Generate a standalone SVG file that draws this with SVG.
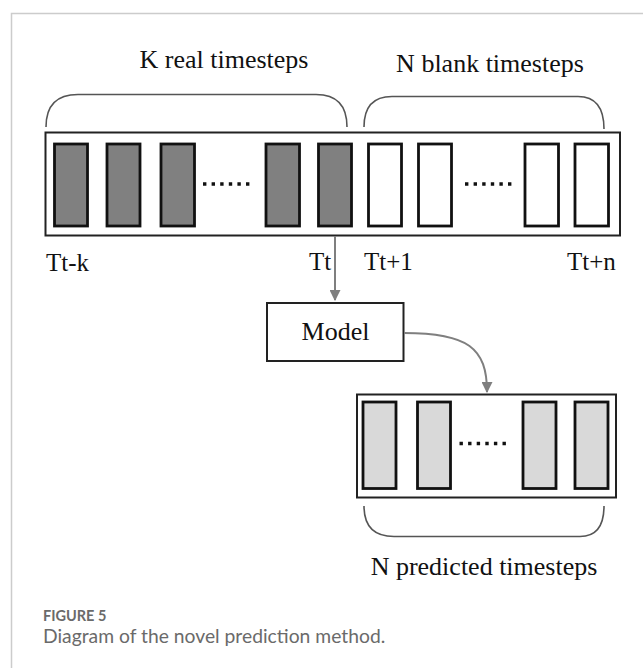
<svg xmlns="http://www.w3.org/2000/svg" width="643" height="668" viewBox="0 0 643 668">
  <style>
    .serif { font-family: "Liberation Serif", "Times New Roman", serif; fill: #111; }
    .head { font-size: 26px; text-anchor: middle; }
    .tick { font-size: 25px; }
    .box { fill: #fff; stroke: #222; stroke-width: 2; }
    .real { fill: #808080; stroke: #111; stroke-width: 2.8; }
    .blank { fill: #fff; stroke: #111; stroke-width: 2.8; }
    .pred { fill: #d9d9d9; stroke: #111; stroke-width: 2.8; }
    .brace { fill: none; stroke: #555; stroke-width: 1.6; }
    .dots { stroke: #111; stroke-width: 3.4; stroke-dasharray: 3.4 5.2; }
    .link { fill: none; stroke: #7f7f7f; stroke-width: 2; }
    .cap { font-family: "Lato", "Open Sans", sans-serif; fill: #6a6a6a; }
  </style>
  <defs>
    <marker id="arrow" viewBox="0 0 10 10" refX="9" refY="5" markerWidth="5.5" markerHeight="5.5" orient="auto" markerUnits="strokeWidth">
      <path d="M0,0 L10,5 L0,10 Z" fill="#7f7f7f"/>
    </marker>
  </defs>

  <!-- panel frame -->
  <path d="M11.5,668 V13.5 H643" fill="none" stroke="#cccccc" stroke-width="1.5"/>

  <!-- input sequence -->
  <g id="input-sequence">
    <text class="serif head" x="224" y="68">K real timesteps</text>
    <text class="serif head" x="490" y="72">N blank timesteps</text>
    <path class="brace" d="M46,127 Q46,94.5 78,94.5 H316 Q347,94.5 347,127"/>
    <path class="brace" d="M364,127 Q364,96.5 392,96.5 H578 Q604,96.5 604,129"/>
    <rect class="box" x="45.5" y="132.5" width="574.5" height="103"/>
    <rect class="real" x="54.5" y="144" width="33" height="82"/>
    <rect class="real" x="107" y="144" width="33" height="82"/>
    <rect class="real" x="161" y="144" width="33.5" height="82"/>
    <line class="dots" x1="203" y1="184" x2="250" y2="184"/>
    <rect class="real" x="266" y="144" width="33.5" height="82"/>
    <rect class="real" x="318.5" y="144" width="33" height="82"/>
    <rect class="blank" x="368.5" y="144" width="33" height="82"/>
    <rect class="blank" x="418.5" y="144" width="33" height="82"/>
    <line class="dots" x1="465" y1="184" x2="512" y2="184"/>
    <rect class="blank" x="525" y="144" width="33.5" height="82"/>
    <rect class="blank" x="575" y="144" width="33.5" height="82"/>
    <text class="serif tick" x="46" y="271">Tt-k</text>
    <text class="serif tick" x="309" y="270">Tt</text>
    <text class="serif tick" x="364" y="270">Tt+1</text>
    <text class="serif tick" x="567" y="270">Tt+n</text>
  </g>

  <!-- model -->
  <g id="model">
    <rect class="box" x="267" y="303" width="136.5" height="58"/>
    <text class="serif" x="335.5" y="340" font-size="26" text-anchor="middle">Model</text>
  </g>

  <!-- output sequence -->
  <g id="output-sequence">
    <rect class="box" x="357" y="394.5" width="259" height="103"/>
    <rect class="pred" x="363" y="402" width="33" height="86.5"/>
    <rect class="pred" x="417.5" y="402" width="33" height="86.5"/>
    <line class="dots" x1="459.5" y1="443.5" x2="506.5" y2="443.5"/>
    <rect class="pred" x="523" y="402" width="33" height="86.5"/>
    <rect class="pred" x="575" y="402" width="33" height="86.5"/>
    <path class="brace" d="M364,506 Q364,536.5 394,536.5 H580 Q604,536.5 604,506"/>
    <text class="serif head" x="484" y="575">N predicted timesteps</text>
  </g>

  <!-- connectors -->
  <g id="connectors">
    <path class="link" d="M335,236 V300" marker-end="url(#arrow)"/>
    <path class="link" d="M404,333 C468,333 487,348 487,392" marker-end="url(#arrow)"/>
  </g>

  <!-- caption -->
  <g id="caption">
    <text class="cap" x="43" y="620.5" font-size="14.5" font-weight="bold">FIGURE 5</text>
    <text class="cap" x="43" y="642.5" font-size="19.3">Diagram of the novel prediction method.</text>
  </g>
</svg>
